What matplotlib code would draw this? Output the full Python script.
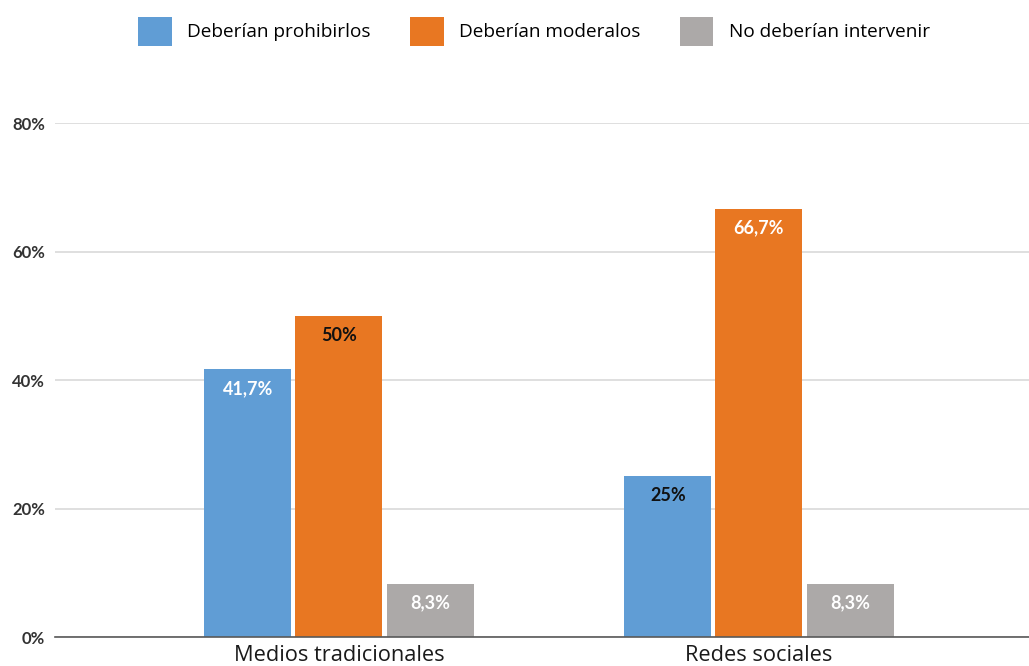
import numpy as np
import matplotlib.pyplot as plt
from matplotlib.patches import Patch

# Datos
categorias = ["Medios tradicionales", "Redes sociales"]
series = ["Deberían prohibirlos", "Deberían moderalos", "No deberían intervenir"]
prohibir = [41.7, 25]
moderar = [50, 66.7]
no_intervenir = [8.3, 8.3]
etiquetas = [["41,7%", "25%"], ["50%", "66,7%"], ["8,3%", "8,3%"]]
color_etiqueta = [["white", "#111111"], ["#111111", "white"], ["white", "white"]]
colores = ["#609DD5", "#E87722", "#ACA9A8"]
yticks = [0, 20, 40, 60, 80]

plt.rcParams['font.family'] = ['Open Sans', 'DejaVu Sans']
negrita = ['Lato', 'DejaVu Sans']

fig = plt.figure(figsize=(10.29, 6.66), dpi=100)
ax = fig.add_axes([0.0535, 0.0435, 0.9465, 0.7715])

x = np.arange(len(categorias))
ancho = 0.207
paso = 0.217
valores = [prohibir, moderar, no_intervenir]
for i, vals in enumerate(valores):
    pos = x + (i - 1) * paso
    barras = ax.bar(pos, vals, width=ancho, color=colores[i], zorder=3)
    for j, b in enumerate(barras):
        ax.annotate(etiquetas[i][j], (b.get_x() + b.get_width() / 2, b.get_height()),
                    xytext=(0, -14), textcoords="offset points", ha="center", va="center",
                    fontsize=13, fontweight="bold", family=negrita,
                    color=color_etiqueta[i][j], zorder=4)

ax.set_xlim(-0.676, 1.643)
ax.set_ylim(0, 80)
ax.set_yticks(yticks)
ax.set_yticklabels([f"{v}%" for v in yticks], fontsize=12, fontweight="bold",
                   family=negrita, color="#333333")
ax.set_xticks(x)
ax.set_xticklabels(categorias, fontsize=15.7, color="#1a1a1a")
ax.tick_params(axis="both", length=0)
ax.tick_params(axis="y", pad=7)
ax.tick_params(axis="x", pad=6)
ax.grid(axis="y", color="#D9D9D9", linewidth=1.2, zorder=0)
for s in ["top", "right", "left"]:
    ax.spines[s].set_visible(False)
ax.spines["bottom"].set_color("#595959")
ax.spines["bottom"].set_linewidth(1.2)
ax.spines["bottom"].set_zorder(5)

handles = [Patch(facecolor=c, label=s) for c, s in zip(colores, series)]
fig.legend(handles=handles, loc="center", bbox_to_anchor=(0.519, 0.953), ncol=3,
           frameon=False, fontsize=13.7, handlelength=1.75, handleheight=2.0,
           handletextpad=0.8, columnspacing=2.1)

fig.savefig("out.png", dpi=100)
